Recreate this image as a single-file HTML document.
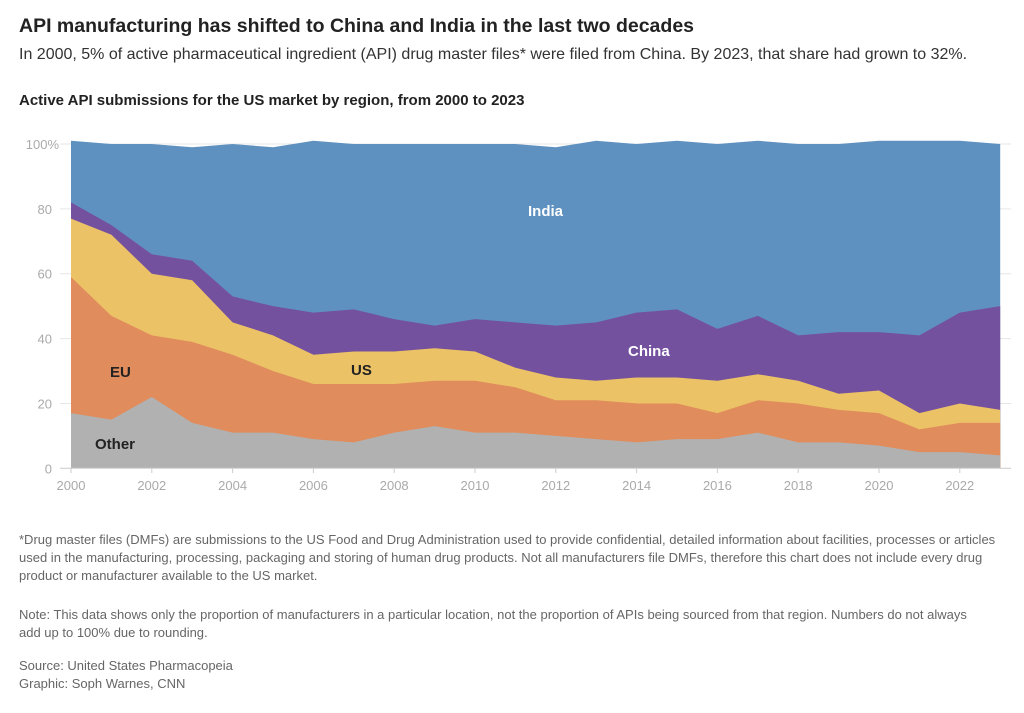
<!DOCTYPE html>
<html><head><meta charset="utf-8"><style>
body{margin:0;background:#fff;font-family:"Liberation Sans",Arial,sans-serif;width:1024px;height:713px;overflow:hidden;position:relative}
.t{position:absolute;left:19px;white-space:nowrap}
.fn{position:absolute;left:19px;font-size:13px;color:#666;line-height:18px;white-space:nowrap}
</style></head><body>
<div class="t" style="top:15px;font-size:19.5px;font-weight:bold;color:#222">API manufacturing has shifted to China and India in the last two decades</div>
<div class="t" style="top:46px;font-size:16px;color:#333">In 2000, 5% of active pharmaceutical ingredient (API) drug master files* were filed from China. By 2023, that share had grown to 32%.</div>
<div class="t" style="top:92px;font-size:15px;font-weight:bold;color:#222">Active API submissions for the US market by region, from 2000 to 2023</div>
<svg id="c" width="1024" height="713" style="position:absolute;left:0;top:0" font-family="Liberation Sans, Arial, sans-serif"></svg>
<div class="fn" style="top:531px">*Drug master files (DMFs) are submissions to the US Food and Drug Administration used to provide confidential, detailed information about facilities, processes or articles<br>used in the manufacturing, processing, packaging and storing of human drug products. Not all manufacturers file DMFs, therefore this chart does not include every drug<br>product or manufacturer available to the US market.</div>
<div class="fn" style="top:606px">Note: This data shows only the proportion of manufacturers in a particular location, not the proportion of APIs being sourced from that region. Numbers do not always<br>add up to 100% due to rounding.</div>
<div class="fn" style="top:657px">Source: United States Pharmacopeia<br>Graphic: Soph Warnes, CNN</div>
<script>
var d=[[17,59,77,82,101],[15,47,72,75,100],[22,41,60,66,100],[14,39,58,64,99],[11,35,45,53,100],[11,30,41,50,99],[9,26,35,48,101],[8,26,36,49,100],[11,26,36,46,100],[13,27,37,44,100],[11,27,36,46,100],[11,25,31,45,100],[10,21,28,44,99],[9,21,27,45,101],[8,20,28,48,100],[9,20,28,49,101],[9,17,27,43,100],[11,21,29,47,101],[8,20,27,41,100],[8,18,23,42,100],[7,17,24,42,101],[5,12,17,41,101],[5,14,20,48,101],[4,14,18,50,100]];
var cols=["#b1b1b1","#e08c5c","#ecc266","#74519f","#5f91c0"];
function X(i){return 71+i*40.4}function Y(v){return 468.3-v*3.243}
var s="";
for(var v=20;v<=100;v+=20){s+='<line x1="60" x2="1011" y1="'+Y(v)+'" y2="'+Y(v)+'" stroke="#e6e6e6"/>';
s+='<text x="'+(v==100?59:52)+'" y="'+(Y(v)+5)+'" text-anchor="end" font-size="13" fill="#aaa">'+v+(v==100?'%':'')+'</text>';}
s+='<text x="52" y="'+(Y(0)+5)+'" text-anchor="end" font-size="13" fill="#aaa">0</text>';
for(var k=4;k>=0;k--){var p=[];for(var i=0;i<24;i++)p.push(X(i)+","+Y(d[i][k]));p.push(X(23)+","+Y(0));p.push(X(0)+","+Y(0));
s+='<polygon points="'+p.join(" ")+'" fill="'+cols[k]+'"/>';}
s+='<line x1="60" x2="1011" y1="'+Y(0)+'" y2="'+Y(0)+'" stroke="#ccc"/>';
for(var i=0;i<24;i+=2){s+='<line x1="'+X(i)+'" x2="'+X(i)+'" y1="468" y2="473" stroke="#ccc"/><text x="'+X(i)+'" y="490" text-anchor="middle" font-size="13" fill="#aaa">'+(2000+i)+'</text>';}
s+='<text x="95" y="449" font-size="15" font-weight="bold" fill="#222">Other</text>';
s+='<text x="110" y="377" font-size="15" font-weight="bold" fill="#222">EU</text>';
s+='<text x="351" y="375" font-size="15" font-weight="bold" fill="#222">US</text>';
s+='<text x="628" y="356" font-size="15" font-weight="bold" fill="#fff">China</text>';
s+='<text x="528" y="216" font-size="15" font-weight="bold" fill="#fff">India</text>';
document.getElementById("c").innerHTML=s;
</script>
</body></html>
